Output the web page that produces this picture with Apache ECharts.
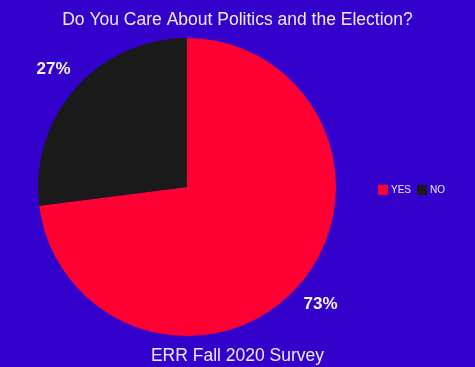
<!DOCTYPE html>
<html><head><meta charset="utf-8">
<script src="https://cdn.jsdelivr.net/npm/echarts@6/dist/echarts.min.js"></script>
<style>html,body{margin:0;padding:0;background:#3300cc}#c{width:475px;height:367px}</style>
</head><body><div id="c"></div>
<script>
const categories = ['YES', 'NO'];
const values = [73, 27];
const colors = ['#ff0033', '#1a1a1a'];
const titleText = 'Do You Care About Politics and the Election?';
const subtitleText = 'ERR Fall 2020 Survey';

const chart = echarts.init(document.getElementById('c'), null, {renderer: 'canvas'});
const pieData = categories.map((n, i) => ({name: n, value: values[i], itemStyle: {color: colors[i]}}));
chart.setOption({
  backgroundColor: '#3300cc',
  animation: false,
  title: [
    {text: titleText, left: 'center', top: 6, textStyle: {color: '#ecebff', fontFamily: 'Liberation Sans', fontSize: 17.5, fontWeight: 'normal'}},
    {text: subtitleText, left: 'center', top: 342, textStyle: {color: '#ecebff', fontFamily: 'Liberation Sans', fontSize: 17.5, fontWeight: 'normal'}}
  ],
  legend: {
    data: categories.map((n, i) => ({name: n, itemStyle: {color: colors[i]}})),
    left: 373, top: 180, icon: 'rect', itemWidth: 10, itemHeight: 10, itemGap: 6,
    textStyle: {color: '#ecebff', fontFamily: 'Liberation Sans', fontSize: 10, padding: [0, 0, 0, -2]},
    selectedMode: false
  },
  series: [
    {
      type: 'pie', center: [187, 187], radius: [0, 149], startAngle: 90, clockwise: true,
      data: pieData, label: {show: false}, labelLine: {show: false}, silent: true
    },
    {
      type: 'pie', center: [187, 187], radius: [0, 350], startAngle: 90, clockwise: true,
      data: categories.map((n, i) => ({name: n, value: values[i], itemStyle: {color: 'rgba(0,0,0,0)'}})),
      silent: true, z: 3,
      label: {show: true, position: 'inside', formatter: p => p.value + '%', color: '#f4f3ff',
        fontFamily: 'Liberation Sans', fontSize: 17, fontWeight: 'bold'},
      labelLine: {show: false}
    }
  ]
});
</script></body></html>
